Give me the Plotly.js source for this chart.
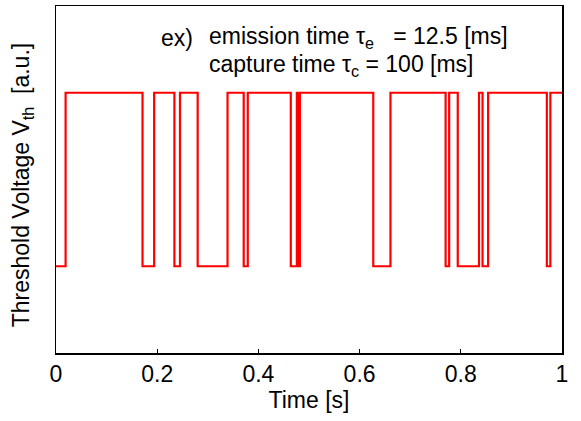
<!DOCTYPE html>
<html>
<head>
<meta charset="utf-8">
<script src="https://cdn.plot.ly/plotly-3.0.1.min.js"></script>
<style>html,body{margin:0;padding:0;background:#fff;}</style>
</head>
<body>
<div id="chart" style="width:581px;height:421px;"></div>
<script>
// Switching instants [s] and the level held from each instant (RTN signal)
const switchTimes = [0, 0.019, 0.171, 0.194, 0.234, 0.245, 0.280, 0.339, 0.371, 0.379,
  0.464, 0.476, 0.479, 0.482, 0.627, 0.661, 0.770, 0.777, 0.794, 0.836,
  0.843, 0.854, 0.970, 0.977, 1.0];
const levels = [0.25, 0.75, 0.25, 0.75, 0.25, 0.75, 0.25, 0.75, 0.25, 0.75,
  0.25, 0.75, 0.25, 0.75, 0.25, 0.75, 0.25, 0.75, 0.25, 0.75,
  0.25, 0.75, 0.25, 0.75, 0.75];
const xTicks = [0, 0.2, 0.4, 0.6, 0.8, 1];
const xTickLabels = ['0', '0.2', '0.4', '0.6', '0.8', '1'];

const FONT = 'Liberation Sans, Arial, sans-serif';
const FS = 23;

const trace = {
  x: switchTimes, y: levels, type: 'scatter', mode: 'lines',
  line: {shape: 'hv', color: '#ff0000', width: 2.2},
  hoverinfo: 'skip'
};

const layout = {
  width: 581, height: 421,
  margin: {l: 56, r: 19, t: 6, b: 68},
  paper_bgcolor: '#fff', plot_bgcolor: '#fff',
  showlegend: false,
  font: {family: FONT, size: FS, color: '#000'},
  xaxis: {
    range: [0, 1], tickvals: xTicks, ticktext: xTickLabels,
    ticks: 'inside', ticklen: 4, tickwidth: 1, tickcolor: '#000',
    showline: true, linecolor: '#000', linewidth: 1.5, mirror: true,
    showgrid: false, zeroline: false,
    tickfont: {family: FONT, size: FS, color: '#000'},
    title: {text: 'Time [s]', font: {family: FONT, size: FS, color: '#000'}, standoff: 0}
  },
  yaxis: {
    range: [0, 1], showticklabels: false, ticks: '',
    showline: true, linecolor: '#000', linewidth: 1.5, mirror: true,
    showgrid: false, zeroline: false
  },
  annotations: [
    {xref: 'paper', yref: 'paper', x: -0.066, y: 0.485, xanchor: 'center', yanchor: 'middle',
     textangle: -90, showarrow: false,
     text: 'Threshold Voltage V<sub>th</sub>&nbsp;&nbsp;[a.u.]',
     font: {family: FONT, size: FS, color: '#000'}},
    {xref: 'paper', yref: 'paper', x: 0.203, y: 0.909, xanchor: 'left', yanchor: 'middle',
     showarrow: false, text: 'ex)', font: {family: FONT, size: FS, color: '#000'}},
    {xref: 'paper', yref: 'paper', x: 0.298, y: 0.909, xanchor: 'left', yanchor: 'middle',
     showarrow: false, text: 'emission time \u03c4<sub>e</sub>&nbsp;&nbsp;&nbsp;= 12.5 [ms]',
     font: {family: FONT, size: FS, color: '#000'}},
    {xref: 'paper', yref: 'paper', x: 0.298, y: 0.829, xanchor: 'left', yanchor: 'middle',
     showarrow: false, text: 'capture time \u03c4<sub>c</sub> = 100 [ms]',
     font: {family: FONT, size: FS, color: '#000'}}
  ]
};

Plotly.newPlot('chart', [trace], layout, {staticPlot: true, displayModeBar: false});
</script>
</body>
</html>
